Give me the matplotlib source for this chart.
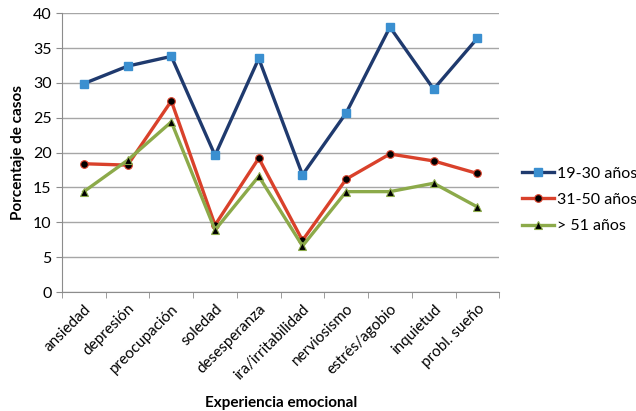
import numpy as np
import matplotlib
matplotlib.use('Agg')
import matplotlib.pyplot as plt

# data
categorias = ['ansiedad', 'depresión', 'preocupación', 'soledad', 'desesperanza',
              'ira/irritabilidad', 'nerviosismo', 'estrés/agobio', 'inquietud', 'probl. sueño']
edad_19_30 = [29.9, 32.4, 33.8, 19.6, 33.5, 16.8, 25.7, 38.0, 29.1, 36.4]
edad_31_50 = [18.4, 18.2, 27.4, 9.6, 19.2, 7.4, 16.2, 19.8, 18.8, 17.0]
edad_51 = [14.4, 18.9, 24.4, 8.9, 16.6, 6.6, 14.4, 14.4, 15.6, 12.2]

plt.rcParams['font.family'] = ['Lato', 'DejaVu Sans']

fig = plt.figure(figsize=(6.36, 4.11), dpi=100)
ax = fig.add_axes([0.0975, 0.2895, 0.6875, 0.6785])

x = np.arange(len(categorias))
ax.plot(x, edad_19_30, color='#1F3A6E', lw=2.4, marker='s', ms=6,
        mfc='#3A8FD0', mec='#3A8FD0', label='19-30 años', zorder=4)
ax.plot(x, edad_31_50, color='#D9412B', lw=2.4, marker='o', ms=5.5,
        mfc='black', mec='#D9412B', mew=0.8, label='31-50 años', zorder=3)
ax.plot(x, edad_51, color='#8CAA4A', lw=2.4, marker='^', ms=5.5,
        mfc='black', mec='#8CAA4A', mew=0.8, label='> 51 años', zorder=3)

ax.set_xlim(-0.5, len(categorias) - 0.5)
ax.set_ylim(0, 40)
ax.set_yticks(np.arange(0, 41, 5))
ax.yaxis.grid(True, color='#A6A6A6', lw=1)
ax.set_axisbelow(True)

ax.set_xticks(x)
ax.set_xticklabels(categorias, rotation=45, ha='right', rotation_mode='anchor', fontsize=11)
ax.set_xticks(np.arange(-0.5, len(categorias)), minor=True)
ax.tick_params(axis='x', which='major', length=0, pad=7)
ax.tick_params(axis='x', which='minor', length=4, color='#8C8C8C')
ax.tick_params(axis='y', length=4, color='#8C8C8C', labelsize=11.5)

for s in ['top', 'right']:
    ax.spines[s].set_visible(False)
for s in ['left', 'bottom']:
    ax.spines[s].set_color('#8C8C8C')

ax.set_ylabel('Porcentaje de casos', fontsize=11, fontweight='bold', labelpad=6)
ax.set_xlabel('Experiencia emocional', fontsize=11, fontweight='bold', labelpad=10)

ax.legend(loc='center left', bbox_to_anchor=(1.02, 0.33), frameon=False,
          fontsize=11.5, handlelength=2.0, handletextpad=0.15, labelspacing=0.75)

fig.savefig('out.png', dpi=100)
